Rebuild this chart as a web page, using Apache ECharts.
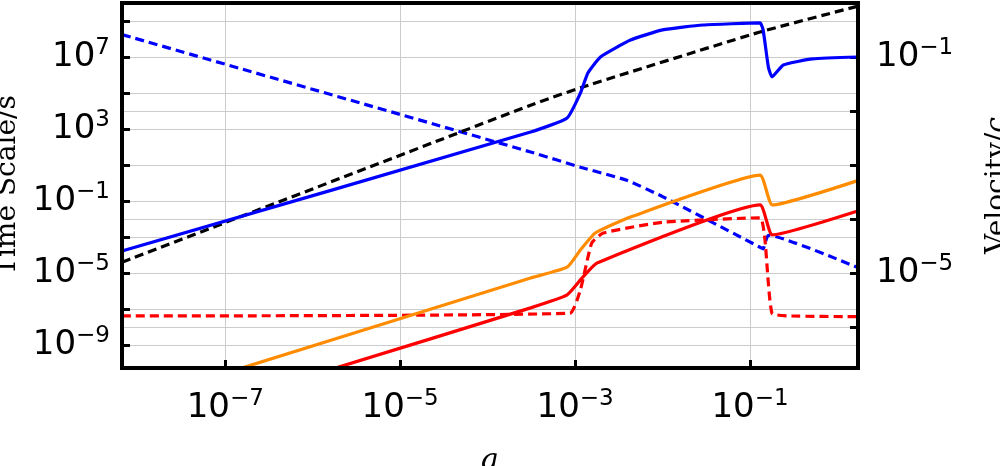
<!DOCTYPE html>
<html><head><meta charset="utf-8">
<script src="https://cdn.jsdelivr.net/npm/echarts@6/dist/echarts.min.js"></script>
<style>html,body{margin:0;padding:0;background:#fff}#c{width:1000px;height:466px}</style>
</head><body><div id="c"></div>
<script>
// Scale factor a and values
const aBlue = [6.6e-9, 3.1e-4, 8.1e-4, 1.15e-3, 1.4e-3, 1.95e-3, 4.3e-3, 1e-2, 2.9e-2, 0.13, 0.141, 0.162, 0.178, 0.24, 0.52, 1.7];
const tBlue = [1.66e-4, 680, 4.1e3, 1e5, 1.3e6, 1e7, 8.7e7, 3.2e8, 6e8, 7.8e8, 3.2e8, 2.75e6, 7.8e5, 3.6e6, 7.8e6, 1e7];
const aBlack = [6.6e-9, 3.1e-4, 1.2e-3, 0.13, 1.7];
const tBlack = [3.9e-5, 2.1e4, 2.1e5, 2.45e8, 6.6e9];
const aOrange = [1.3e-7, 3.1e-4, 8.1e-4, 1.15e-3, 1.7e-3, 4.3e-3, 0.13, 0.18, 1.7];
const tOrange = [4e-11, 5.2e-6, 2.1e-5, 1.9e-4, 1.66e-3, 1.3e-2, 2.75, 6e-2, 1.35];
const aRed = [1.6e-6, 3.1e-4, 8.1e-4, 1.23e-3, 1.78e-3, 0.13, 0.18, 1.7];
const tRed = [4.3e-11, 1.15e-7, 6e-7, 6e-6, 3.6e-5, 6e-2, 1.3e-3, 2.75e-2];
const aBlueV = [6.6e-9, 3.1e-4, 1.15e-3, 3.9e-3, 1e-2, 0.13, 0.141, 0.162, 1.7];
const vBlue = [0.26, 1.74e-3, 9.1e-4, 5.2e-4, 2.6e-4, 3.0e-5, 2.8e-5, 5e-5, 1.26e-5];
const aRedV = [6.6e-9, 8.7e-4, 1.15e-3, 1.55e-3, 2.1e-3, 1e-2, 0.13, 0.148, 0.178, 0.28, 1.7];
const vRed = [1.6e-6, 1.8e-6, 4.9e-6, 3.6e-5, 5.5e-5, 8.7e-5, 1.05e-4, 4.1e-5, 1.8e-6, 1.6e-6, 1.55e-6];
const xTicks = [1e-7, 1e-5, 1e-3, 1e-1];
const yLeftTicks = [1e-9, 1e-5, 1e-1, 1e3, 1e7];
const yLeftGrid = [1e-9, 1e-7, 1e-5, 1e-3, 1e-1, 1e1, 1e3, 1e5, 1e7, 1e9];
const yRightTicks = [1e-5, 1e-1];
const yRightGrid = [1e-6, 1e-5, 1e-4, 1e-3, 1e-2, 1e-1];

const pairs = (a, v) => a.map((x, i) => [x, v[i]]);
const fmt = v => { const e = Math.round(Math.log10(v)); return '10{s|' + (e < 0 ? '\u2212' + (-e) : e) + '}'; };
const rich = { s: { fontSize: 23, verticalAlign: 'top', padding: [0, 0, 18, 0], fontFamily: 'DejaVu Sans', color: '#000' } };
const lab = { formatter: fmt, rich, fontSize: 34, fontFamily: 'DejaVu Sans', color: '#000' };
const line = (name, a, v, color, dashed, yi) => ({
  name, type: 'line', data: pairs(a, v), yAxisIndex: yi, showSymbol: false, smooth: 0.15,
  lineStyle: { color, width: 3.2, type: dashed ? [9, 5] : 'solid' }, z: 3
});
const chart = echarts.init(document.getElementById('c'));
chart.setOption({
  animation: false,
  grid: { left: 122, right: 142, top: 3, bottom: 98, outerBoundsMode: 'none', containLabel: false,
    show: true, borderColor: '#000', borderWidth: 4, z: 10 },
  xAxis: { type: 'log', min: Math.pow(10, -8.18), max: Math.pow(10, 0.234),
    name: 'a', nameLocation: 'middle', nameGap: 78,
    nameTextStyle: { fontFamily: 'DejaVu Serif', fontStyle: 'italic', fontSize: 30, color: '#000' },
    axisLine: { show: false },
    axisTick: { inside: true, length: 8, lineStyle: { color: '#000', width: 3 }, customValues: xTicks },
    axisLabel: Object.assign({ customValues: xTicks, margin: 20 }, lab),
    splitLine: { show: true, lineStyle: { color: '#cccccc', width: 1 } } },
  yAxis: [
    { type: 'log', min: Math.pow(10, -10.28), max: 1e10, name: 'Time Scale/s', nameLocation: 'middle', nameGap: 96,
      nameTextStyle: { fontFamily: 'DejaVu Serif', fontSize: 28, color: '#000' },
      axisLine: { show: false },
      axisTick: { inside: true, length: 8, lineStyle: { color: '#000', width: 3 }, customValues: yLeftGrid },
      axisLabel: Object.assign({ customValues: yLeftTicks, margin: 12 }, lab),
      splitLine: { show: true, lineStyle: { color: '#cccccc', width: 1 } } },
    { type: 'log', min: Math.pow(10, -6.76), max: 1, name: 'Velocity/{i|c}', nameLocation: 'middle', nameGap: 126, nameRotate: 90,
      nameTextStyle: { fontFamily: 'DejaVu Serif', fontSize: 28, color: '#000', rich: { i: { fontFamily: 'DejaVu Serif', fontStyle: 'italic', fontSize: 28 } } },
      axisLine: { show: false },
      axisTick: { inside: true, length: 8, lineStyle: { color: '#000', width: 3 }, customValues: yRightGrid },
      axisLabel: Object.assign({ customValues: yRightTicks, margin: 18 }, lab),
      splitLine: { show: true, lineStyle: { color: '#cccccc', width: 1 } } }
  ],
  series: [
    line('blueV', aBlueV, vBlue, '#0000ff', true, 1),
    line('redV', aRedV, vRed, '#ff0000', true, 1),
    line('black', aBlack, tBlack, '#000000', true, 0),
    line('blue', aBlue, tBlue, '#0000ff', false, 0),
    line('orange', aOrange, tOrange, '#ff8c00', false, 0),
    line('red', aRed, tRed, '#ff0000', false, 0)
  ]
});
</script></body></html>
